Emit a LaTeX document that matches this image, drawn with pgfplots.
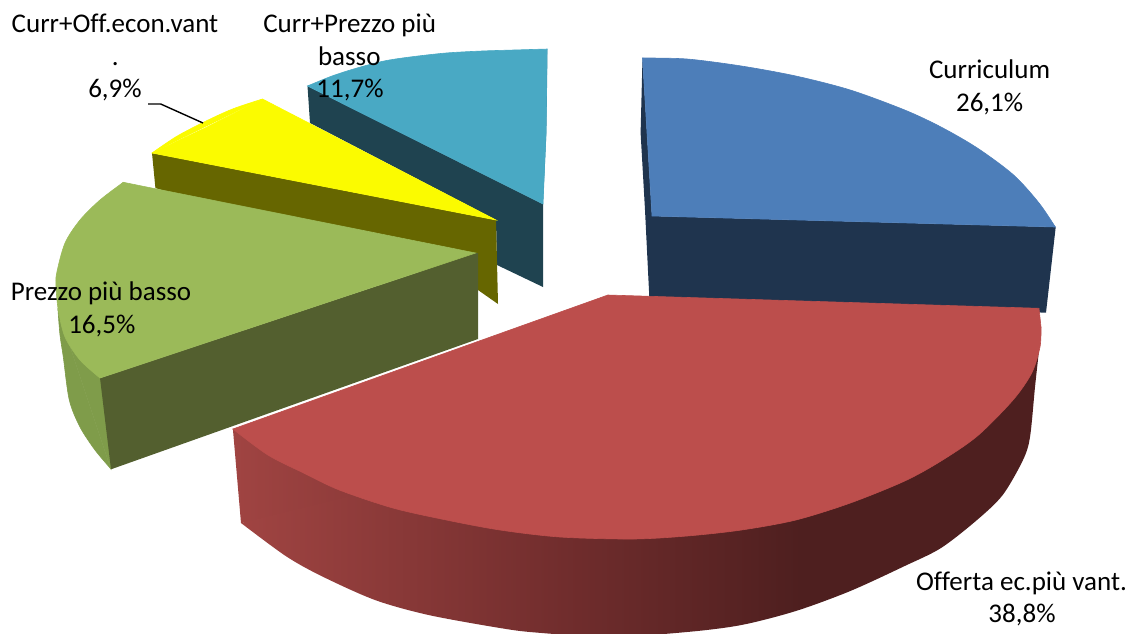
\documentclass[border=0pt]{standalone}
\usepackage{pgfplots}
\usepackage{fontspec}
\setmainfont[Ligatures=NoCommon]{Carlito}
\pgfplotsset{compat=1.18}
\definecolor{blueT}{HTML}{4D7EB9}
\definecolor{blueS}{HTML}{1F344E}
\definecolor{redT}{HTML}{BC4E4C}
\definecolor{redA}{HTML}{A04442}
\definecolor{redB}{HTML}{712D2D}
\definecolor{redC}{HTML}{4E1F1F}
\colorlet{redM}{redA!49!redB}
\definecolor{greenT}{HTML}{9BBA59}
\definecolor{greenS}{HTML}{535F2F}
\definecolor{greenC}{HTML}{7F9C4A}
\definecolor{yellowT}{HTML}{FBFB00}
\definecolor{yellowS}{HTML}{666600}
\definecolor{tealT}{HTML}{49A9C4}
\definecolor{tealS}{HTML}{1F4350}
\definecolor{tealE}{HTML}{3F8BA5}
\pgfdeclarehorizontalshading{redside}{100bp}{color(0bp)=(redA); color(25bp)=(redA); color(45.2bp)=(redB); color(60bp)=(redC); color(100bp)=(redC)}
\tikzset{lbl/.style={anchor=base, inner sep=0pt, font=\fontsize{27}{33}\selectfont},
  solid fill/.style={fill=#1, draw=#1, line width=0.6pt}}
\begin{document}
\begin{tikzpicture}
\path[use as bounding box] (0,0) rectangle (1129pt,633pt);
\begin{axis}[
  at={(0,0)}, anchor=south west,
  scale only axis, width=1129pt, height=633pt,
  xmin=0, xmax=1129, ymin=0, ymax=633, y dir=reverse,
  hide axis, clip=true,
  every axis plot/.append style={draw=none, mark=none}]
% teal
\addplot[fill=tealS] coordinates {(307.5,86)(310,123)(496,220)(497,265)(543,287)(543,204)} -- cycle;
\addplot[fill=tealE] coordinates {(547.5,49)(546.4,133)(543,204)(543,150)(545,60)} -- cycle;
\addplot[solid fill=tealT, smooth] coordinates {(307.5,86)(332,76)(357,68)(384,61)(410,57)(446,53)(482,51)(514,50)(547.5,49)};
\addplot[solid fill=tealT] coordinates {(307.5,86)(400,62)(500,52.5)(547,49.5)(546,133)(543,204)} -- cycle;
% yellow
\addplot[fill=yellowS] coordinates {(152,153)(155.4,188)(478,290)(498,304)(496,220)} -- cycle;
\addplot[solid fill=yellowT, smooth] coordinates {(152,153)(165,144)(179,135)(204,122)(232.5,109)(262.5,99)};
\addplot[solid fill=yellowT] coordinates {(262.5,99)(496,220)(152,153)(205,128)} -- cycle;
% green
\addplot[solid fill=greenC] coordinates {(58,310)(111,469)(118,420)(100,378)} -- cycle;
\addplot[solid fill=greenC, smooth] coordinates {(58,310)(60,335)(63.3,357)(69.3,400)(80,427)(95,450)(111,469)};
\addplot[fill=greenS] coordinates {(100,378)(475.7,253)(478,253)(478,339)(111,469.3)} -- cycle;
\addplot[solid fill=greenT, smooth] coordinates {(100,378)(80,360)(65,337)(58.3,310)(56,287)(56.7,273)(65,243)(80,220)(100,200)(123.3,182.3)};
\addplot[solid fill=greenT] coordinates {(123.3,182.3)(475.7,253)(100,378)(70,330)(60,280)(82,225)} -- cycle;
% blue
\addplot[fill=blueS] coordinates {(642.5,58)(640.6,133)(645,210)(649.3,297)(1046,312.7)(1055.7,227)(652,216)} -- cycle;
\addplot[solid fill=blueT, smooth] coordinates {(642.5,58)(687,59)(741.4,66)(795.8,76)(850.3,90)(904.7,110)(941,127)(977.3,148)(1013.6,175)(1039,203)(1055.3,227)};
\addplot[solid fill=blueT] coordinates {(642.5,58)(800,85)(1015,185)(1055.3,227)(652,216)} -- cycle;
% red
\addplot[left color=redA, right color=redM] coordinates {(232.9,429)(241,523)(400,500)(400,480)} -- cycle;
\addplot[shading=redside, smooth] coordinates {(241,523)(285.7,556)(321.4,576)(375,600)(428.6,615)(500,628)(535.7,632.5)(610,637)(687,632)(741.4,625)(795.8,611)(850.3,591)(904.7,566)(941,548)(977,520)(1002.7,495)(1023,460)(1030,437)(1035,387)(1039,350)(1041,327)};
\addplot[solid fill=redT, smooth] coordinates {(1041,327)(1040,347)(1031.7,373)(1013,400)(977.3,436)(941,461)(904.7,481)(850.3,503)(795.8,520)(741.4,530)(687,536)(632.6,539)(560,537)(500,530)(446.4,520)(392.9,508)(339.3,490)(303.6,473)(267.9,455)(232.9,429)};
\addplot[solid fill=redT] coordinates {(607.9,295)(1039,308.3)(1041,327)(1000,400)(800,510)(600,530)(350,490)(232.9,429)} -- cycle;
% leader
\addplot[draw=black, line width=1.4pt] coordinates {(148,104)(160.7,104)(203,123)};
% labels
\node[lbl] at (axis cs:989.6,78) {Curriculum};
\node[lbl] at (axis cs:989.6,111) {26,1\%};
\node[lbl] at (axis cs:115,32.7) {Curr+Off.econ.vant};
\node[lbl] at (axis cs:115.4,65) {.};
\node[lbl] at (axis cs:115,97.7) {6,9\%};
\node[lbl] at (axis cs:349.6,32.7) {Curr+Prezzo più};
\node[lbl] at (axis cs:349.3,65.7) {basso};
\node[lbl] at (axis cs:350,97.7) {11,7\%};
\node[lbl] at (axis cs:101,300) {Prezzo più basso};
\node[lbl] at (axis cs:101.8,333) {16,5\%};
\node[lbl] at (axis cs:1021.5,590) {Offerta ec.più vant.};
\node[lbl] at (axis cs:1022,622) {38,8\%};
\end{axis}
\end{tikzpicture}
\end{document}
